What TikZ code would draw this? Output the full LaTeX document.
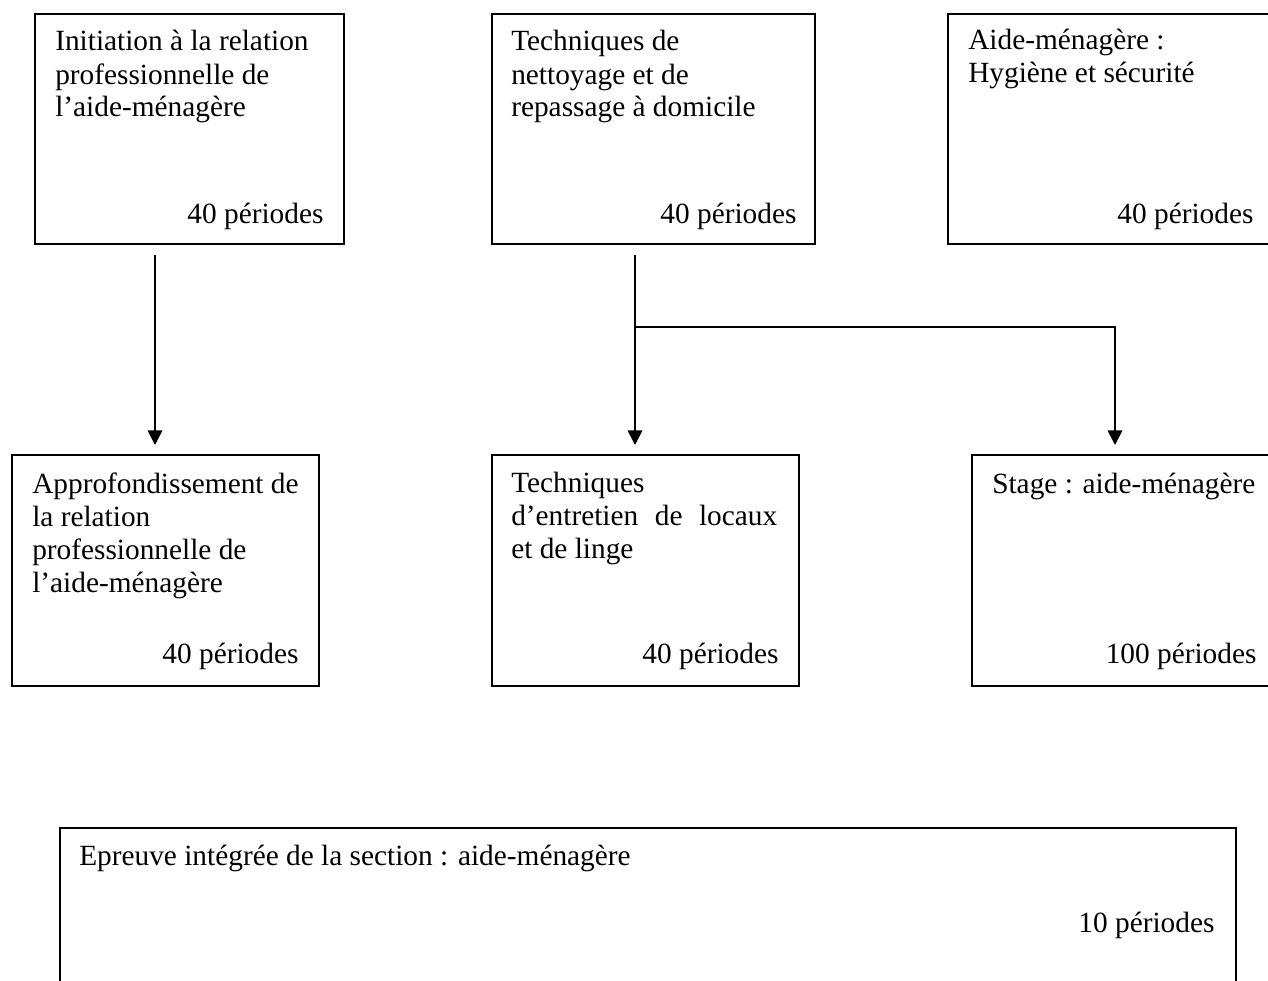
\documentclass[tikz,border=0pt]{standalone}
\usepackage{fontspec}
\setmainfont{Liberation Serif}
\usetikzlibrary{arrows.meta,calc}
\newcommand{\modlines}[1]{\begin{tabular}[t]{@{}l@{}}#1\end{tabular}}
\tikzset{>={Triangle[width=11pt,length=11pt]}}
\tikzset{
  module/.style 2 args={draw, line width=1.3pt, anchor=north west, inner sep=0pt,
    minimum width=#1*0.75pt, minimum height=#2*0.75pt},
  title/.style={anchor=base west, inner sep=0pt,
    font=\fontsize{22}{24.75}\selectfont},
  hours/.style={anchor=base east, inner sep=0pt,
    font=\fontsize{22}{24.75}\selectfont},
  conn/.style={->, line width=1.3pt}
}

\begin{document}
\begin{tikzpicture}[x=0.75pt, y=-0.75pt]
  \useasboundingbox (0,0) rectangle (1268,981);
  \clip (0,0) rectangle (1268,981);
  % first row
  \node[module={309}{230}] (init) at (34,13) {};
  \node[title] (initT) at ($(init.north west)+(21,38)$)
    {\modlines{Initiation à la relation\\professionnelle de\\l’aide-ménagère}};
  \node[hours] (initH) at ($(init.south east)+(-21,-21)$) {40 périodes};
  \node[module={323}{230}] (nett) at (491,13) {};
  \node[title] (nettT) at ($(nett.north west)+(20,38)$)
    {\modlines{Techniques de\\nettoyage et de\\repassage à domicile}};
  \node[hours] (nettH) at ($(nett.south east)+(-19,-21)$) {40 périodes};
  \node[module={326}{230}] (hyg) at (947,13) {};
  \node[title] (hygT) at ($(hyg.north west)+(21,37)$)
    {\modlines{Aide-ménagère :\\Hygiène et sécurité}};
  \node[hours] (hygH) at ($(hyg.south east)+(-21,-21)$) {40 périodes};
  % second row
  \node[module={307}{231}] (appro) at (11,454) {};
  \node[title] (approT) at ($(appro.north west)+(21,39)$)
    {\modlines{Approfondissement de\\la relation\\professionnelle de\\l’aide-ménagère}};
  \node[hours] (approH) at ($(appro.south east)+(-21,-23)$) {40 périodes};
  \node[module={307}{231}] (entr) at (491,454) {};
  \node[title] (entrT) at ($(entr.north west)+(20,38)$)
    {\modlines{Techniques\\\makebox[199.5pt][s]{d’entretien de locaux}\\et de linge}};
  \node[hours] (entrH) at ($(entr.south east)+(-21,-23)$) {40 périodes};
  \node[module={305}{231}] (stage) at (971,454) {};
  \node[title] (stageT) at ($(stage.north west)+(21,39)$) {Stage : aide-ménagère};
  \node[hours] (stageH) at ($(stage.south east)+(-21,-23)$) {100 périodes};
  % integrated test
  \node[module={1176}{200}] (epreuve) at (59,827) {};
  \node[title] (epreuveT) at ($(epreuve.north west)+(20,38)$)
    {Epreuve intégrée de la section : aide-ménagère};
  \node[hours] (epreuveH) at ($(epreuve.north east)+(-22,105)$) {10 périodes};
  % arrows
  \draw[conn] ($(init.south west)+(121,10)$) -- ($(appro.north west)+(144,-9)$);
  \coordinate (split) at ($(nett.south west)+(144,82)$);
  \draw[conn] ($(nett.south west)+(144,10)$) -- ($(entr.north west)+(144,-9)$);
  \draw[conn] (split) -| ($(stage.north west)+(144,-9)$);
\end{tikzpicture}
\end{document}
